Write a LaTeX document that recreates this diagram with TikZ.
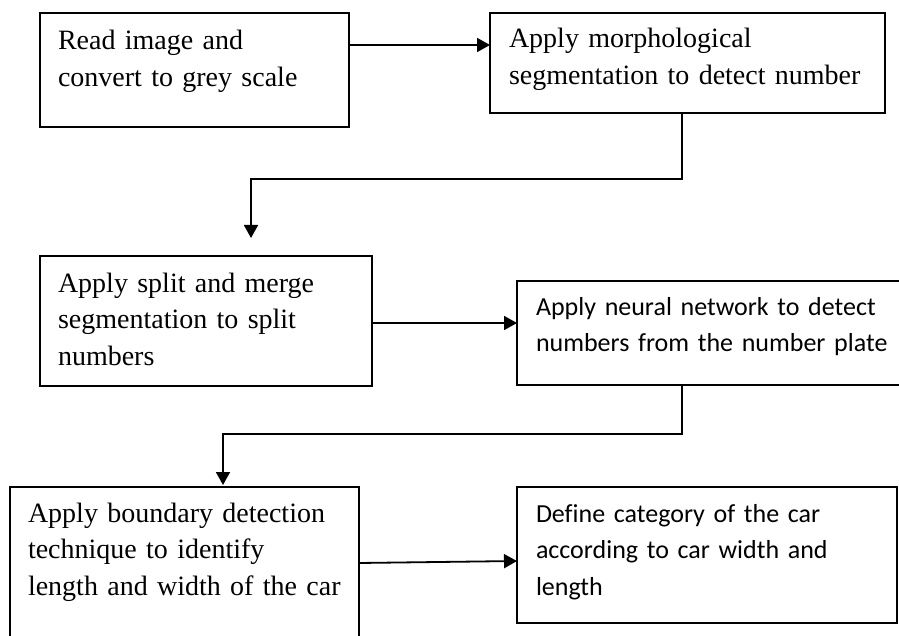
\documentclass[tikz,border=0pt]{standalone}
\usepackage{fontspec}
\setmainfont{Liberation Serif}
\newfontfamily\calfont[Ligatures=NoCommon]{Carlito}
\usetikzlibrary{arrows.meta,positioning}

\begin{document}
\begin{tikzpicture}[
	x = 1pt, y = -1pt, % pixel like units, y grows downwards
	> = {Triangle[length=13pt, width=14pt]}, % arrow head style
	line width = 1.8pt,
	stepbox/.style={draw=black, rectangle, anchor=north west, align=left, inner ysep=0pt, outer sep=0pt, font=\fontsize{28}{36.5}\selectfont},
	calbox/.style={stepbox, font=\calfont\fontsize{26}{36.5}\selectfont},
	]
	\clip (0,0) rectangle (899,636);

	% Steps of the flow
	\node[stepbox, inner xsep=18pt, text width=273pt, text height=37pt, text depth=77pt] (s1) at (40,13) {Read image and\\convert to grey scale};
	\node[stepbox, inner xsep=19pt, text width=357pt, text height=35pt, text depth=65pt] (s2) at (490,13) {Apply morphological\\segmentation to detect number};
	\node[stepbox, inner xsep=18pt, text width=296pt, text height=36pt, text depth=94pt] (s3) at (40,256) {Apply split and merge\\segmentation to split\\numbers};
	\node[calbox, inner xsep=19pt, text width=364pt, text height=34pt, text depth=70pt] (s4) at (517,281) {Apply neural network to detect\\numbers from the number plate};
	\node[stepbox, inner xsep=18pt, text width=313pt, text height=35pt, text depth=138pt] (s5) at (10,487) {Apply boundary detection\\technique to identify\\length and width of the car};
	\node[calbox, inner xsep=19pt, text width=342pt, text height=35pt, text depth=101pt] (s6) at (517,487) {Define category of the car\\according to car width and\\length};

	% Paths connecting steps
	\draw[->] ([yshift=25pt]s1.east) -- ([yshift=18pt]s2.west);
	\draw[->] ([xshift=-5.5pt]s2.south) -- ++(0,66) -| ([xshift=45pt, yshift=18pt]s3.north);
	\draw[->] ([yshift=-2pt]s3.east) -- ([yshift=10pt]s4.west);
	\draw[->] ([xshift=-36pt]s4.south) -- ++(0,49) -| ([xshift=38.5pt, yshift=2pt]s5.north);
	\draw[->] ([yshift=10.5pt]s5.east) -- ([yshift=-6pt]s6.west);

\end{tikzpicture}
\end{document}
